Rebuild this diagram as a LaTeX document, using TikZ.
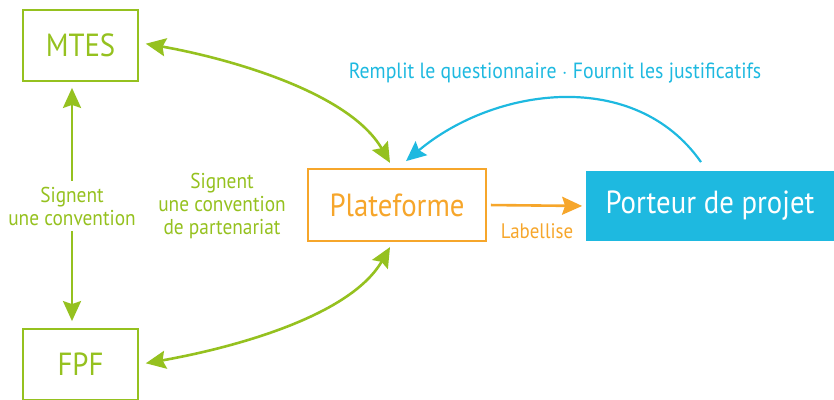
\documentclass[tikz,border=0pt]{standalone}
\usepackage{fontspec}
\setmainfont[FakeStretch=0.9]{PT Sans}
\usetikzlibrary{arrows.meta}
\definecolor{vert}{HTML}{95C11F}
\definecolor{orangeplat}{HTML}{F6A62B}
\definecolor{cyanpp}{HTML}{1EB9E0}
\tikzset{boite/.style={draw, line width=1.8pt, minimum width=115pt, minimum height=71pt, inner sep=0pt, font=\fontsize{32}{36}\selectfont},
  trait/.style={line width=2.6pt}, >={Stealth[length=20pt,width=18pt,inset=3pt]},
  legende/.style={align=center, inner sep=6pt, font=\fontsize{21.5}{23}\selectfont}}

\begin{document}
\begin{tikzpicture}[x=1pt,y=1pt]
  \useasboundingbox (0,0) rectangle (834,399);
  % les boites
  \node[boite,vert] (mtes) at (80.5,353.5) {MTES};
  \node[boite,vert] (fpf) at (80.5,34.5) {FPF};
  \node[boite,orangeplat,minimum width=178pt,minimum height=72pt] (plate) at (397,194) {Plateforme};
  \node[boite,draw=none,fill=cyanpp,text=white,minimum width=248pt,minimum height=70pt] (porteur) at (710,193) {Porteur de projet};
  % les textes
  \node[legende,vert] (signA) at (72,193) {Signent\\une convention};
  \node[legende,vert] (signB) at (222,193) {Signent\\une convention\\de partenariat};
  \node[legende,cyanpp,font=\fontsize{22}{23}\selectfont] (remplit) at (555,326) {Remplit le questionnaire $\cdot$ Fournit les justificatifs};
  \node[legende,orangeplat,font=\fontsize{21}{23}\selectfont] (label) at (537,168) {Labellise};
  % les fleches
  \draw[vert,trait,->,shorten >=6pt] (signA.north) -- (signA.north |- mtes.south);
  \draw[vert,trait,->,shorten >=7pt] (signA.south) -- (signA.south |- fpf.north);
  \draw[vert,trait,<->,shorten <=7pt,shorten >=6pt]
    ([yshift=3pt]mtes.east) to[out=-10,in=120,looseness=0.8] ([xshift=-4pt]plate.north);
  \draw[vert,trait,<->,shorten <=7pt,shorten >=6pt]
    (fpf.east) to[out=10,in=-120,looseness=0.8] ([xshift=-4pt]plate.south);
  \draw[orangeplat,trait,->,shorten <=4pt,shorten >=3pt] (plate.east) -- (porteur.west);
  \draw[cyanpp,line width=2.2pt,->]
    ([xshift=-9pt,yshift=8pt]porteur.north) to[out=125,in=40] ([xshift=9pt,yshift=7pt]plate.north);
\end{tikzpicture}
\end{document}
